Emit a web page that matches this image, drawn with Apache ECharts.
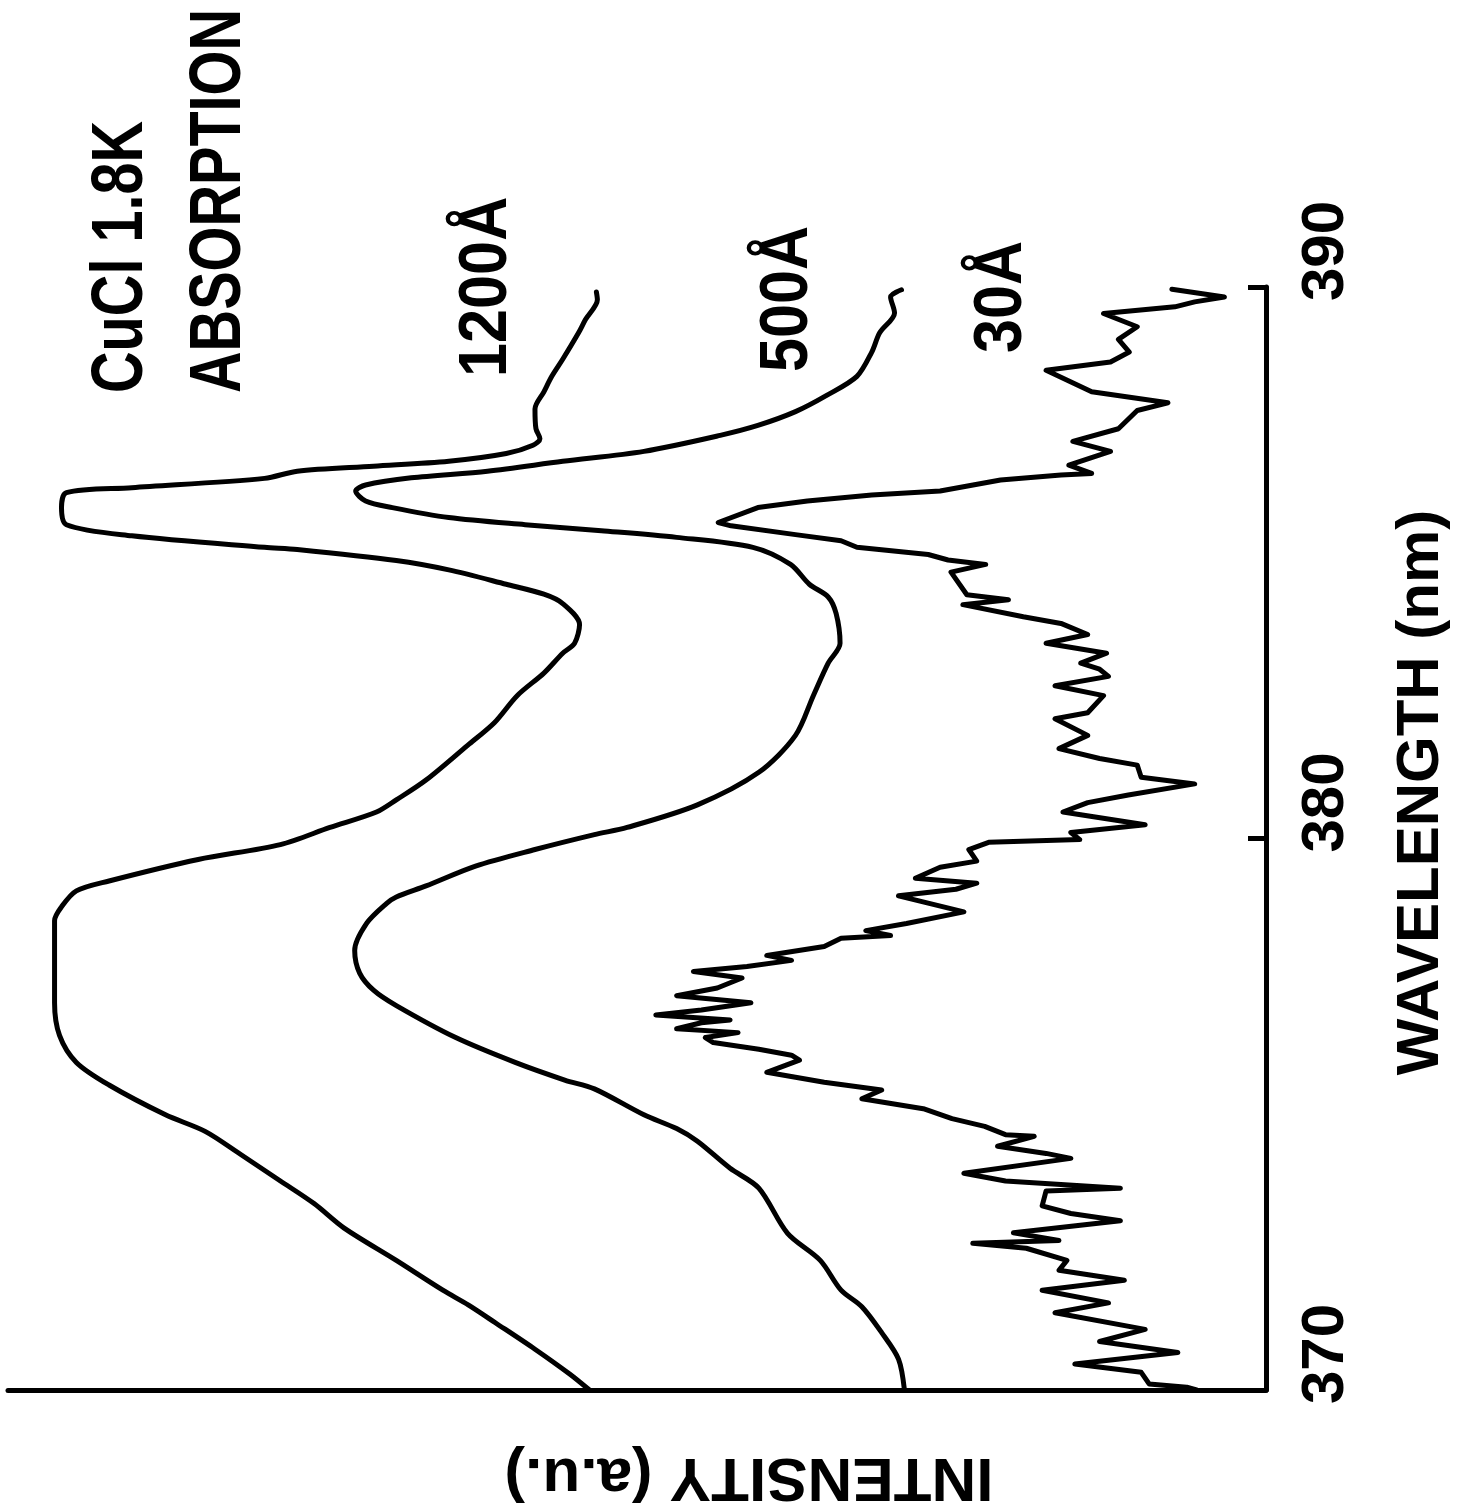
<!DOCTYPE html>
<html><head><meta charset="utf-8">
<script src="https://cdn.jsdelivr.net/npm/echarts@6/dist/echarts.min.js"></script>
<style>html,body{margin:0;padding:0;background:#fff}#c{width:1459px;height:1512px}</style>
</head><body><div id="c"></div>
<script>
const FONT = "'Liberation Sans', Arial, Helvetica, sans-serif";
const wavelengthTicks = [370, 380, 390];
const intensityRange = [0, 127];
const seriesNames = ['1200Å', '500Å', '30Å'];
const titleLines = ['CuCl 1.8K', 'ABSORPTION'];
const axisNames = { wavelength: 'WAVELENGTH (nm)', intensity: 'INTENSITY (a.u.)' };

// [wavelength nm, intensity a.u.]
const film1200 = [
[370.00,68.3],[370.29,70.3],[370.74,73.8],[371.22,77.8],[371.54,80.5],[371.81,83.1],[372.35,87.8],[372.94,93.1],
[373.38,96.1],[373.79,99.5],[374.27,103.5],[374.69,107.1],[374.99,111.1],[375.53,116.8],[375.94,120.1],[376.43,121.8],
[377.02,122.3],[377.92,122.3],[378.51,122.3],[378.76,121.6],[379.05,120.1],[379.23,116.8],[379.62,107.8],[379.89,99.5],
[380.20,94.5],[380.48,89.8],[380.70,87.8],[381.06,84.8],[381.69,80.6],[382.10,77.9],[382.59,75.6],[383.00,72.9],
[383.36,71.0],[383.54,69.8],[383.88,69.3],[384.26,71.0],[384.43,72.9],[384.61,76.7],[384.87,82.5],[385.04,87.8],
[385.24,97.8],[385.28,101.1],[385.49,114.5],[385.69,121.1],[386.00,121.6],[386.27,121.1],[386.36,114.5],[386.53,101.1],
[386.66,97.8],[386.75,90.1],[386.84,82.5],[386.98,76.7],[387.13,74.0],[387.25,73.3],[387.43,73.7],[387.79,73.8],
[388.10,72.9],[388.38,72.1],[388.69,71.0],[389.17,69.4],[389.41,68.7],[389.77,67.5],[389.91,67.6]
];
const film500 = [
[370.00,36.5],[370.56,37.1],[371.04,38.8],[371.51,40.8],[371.81,42.9],[372.35,45.0],[372.84,48.3],[373.66,51.2],
[374.02,54.1],[374.51,57.4],[374.74,59.5],[374.99,62.8],[375.46,67.8],[375.62,70.8],[375.94,75.8],[376.39,81.8],
[376.97,87.8],[377.25,90.1],[377.56,91.5],[377.97,92.0],[378.46,90.8],[378.82,88.8],[378.94,87.8],[379.14,84.8],
[379.50,79.8],[379.80,73.8],[380.07,67.8],[380.20,64.5],[380.61,57.4],[381.20,51.2],[381.87,47.5],[382.59,45.7],
[383.18,44.2],[383.54,43.0],[384.08,43.4],[384.38,44.2],[384.61,46.1],[384.97,48.0],[385.28,51.8],[385.46,59.5],
[385.58,67.1],[385.69,74.8],[385.82,82.5],[386.00,88.2],[386.12,90.9],[386.30,91.9],[386.41,90.9],[386.54,86.3],
[386.66,78.6],[386.84,71.0],[387.02,62.8],[387.31,55.1],[387.49,51.3],[387.74,47.5],[388.03,44.4],[388.38,41.3],
[388.82,39.8],[389.17,39.0],[389.53,37.5],[389.82,37.9],[389.95,36.8]
];
const film30 = [
[370.00,7.0],[370.05,8.0],[370.11,11.8],[370.32,12.6],[370.47,19.3],[370.68,8.9],[370.88,16.8],[371.10,12.2],
[371.40,21.3],[371.58,15.9],[371.81,22.6],[371.99,14.3],[372.17,20.9],[372.35,20.1],[372.57,24.2],[372.66,29.6],
[372.71,20.9],[372.85,25.5],[373.07,14.7],[373.20,19.7],[373.34,22.6],[373.61,22.2],[373.66,14.7],[373.79,26.3],
[373.93,30.5],[374.20,19.7],[374.29,22.2],[374.42,27.1],[374.60,23.4],[374.63,26.3],[374.78,28.4],[374.92,31.7],
[375.10,34.6],[375.28,40.8],[375.44,38.8],[375.58,44.6],[375.76,50.4],[375.98,47.1],[376.07,47.9],[376.18,51.2],
[376.30,55.8],[376.39,56.6],[376.48,53.3],[376.55,59.5],[376.66,57.0],[376.71,54.1],[376.80,61.6],[376.89,57.0],
[377.02,52.0],[377.15,59.5],[377.29,55.4],[377.47,52.9],[377.59,57.8],[377.68,52.4],[377.79,47.9],[377.88,50.4],
[378.04,44.6],[378.19,42.9],[378.24,37.9],[378.33,40.4],[378.46,36.3],[378.67,30.5],[378.96,37.1],[379.08,31.3],
[379.19,29.2],[379.28,35.4],[379.48,32.9],[379.59,29.2],[379.80,30.0],[379.93,28.0],[379.98,18.8],[380.11,19.7],
[380.25,12.2],[380.48,20.5],[380.65,18.0],[380.79,13.9],[380.99,7.2],[381.11,12.6],[381.33,13.0],[381.45,16.8],
[381.63,20.9],[381.87,18.0],[382.17,21.3],[382.28,18.0],[382.59,16.4],[382.77,21.3],[382.94,15.9],[383.07,16.8],
[383.18,18.7],[383.36,16.1],[383.54,22.2],[383.70,18.0],[383.90,20.7],[384.02,24.5],[384.24,30.6],[384.33,26.0],
[384.42,30.2],[384.83,31.8],[384.97,28.3],[385.05,32.1],[385.15,34.1],[385.28,41.3],[385.40,42.9],[385.51,47.5],
[385.67,54.0],[385.73,55.3],[386.00,51.3],[386.12,46.3],[386.23,39.8],[386.30,32.9],[386.50,26.8],[386.59,20.7],
[386.62,17.6],[386.77,19.9],[387.02,15.7],[387.20,19.5],[387.43,14.9],[387.76,13.0],[387.90,9.9],[388.10,17.6],
[388.49,22.2],[388.64,15.7],[388.82,13.8],[389.05,14.9],[389.28,13.0],[389.52,16.4],[389.64,9.2],[389.73,7.2],
[389.82,4.2],[389.96,9.5]
];

const chart = echarts.init(document.getElementById('c'), null, { renderer: 'canvas' });

function rotText(text, x, y, size, sx) {
  return {
    type: 'text', x: x, y: y, rotation: Math.PI / 2, scaleX: sx, scaleY: 1,
    style: {
      text: text, fill: '#000', fontSize: size, fontWeight: 'bold', fontFamily: FONT,
      align: 'left', verticalAlign: 'middle', textAlign: 'left', textVerticalAlign: 'middle'
    }
  };
}

const mk = (name, arr, w, sm) => ({
  name: name, type: 'line', showSymbol: false, symbol: 'none',
  smooth: sm,
  xAxisIndex: 0, yAxisIndex: 0,
  lineStyle: { color: '#000', width: w, cap: 'round', join: 'round' },
  data: arr.map(p => [p[1], p[0]]),
  animation: false
});

chart.setOption({
  backgroundColor: '#fff',
  animation: false,
  grid: { left: 8, right: 181, top: 287, bottom: 111, containLabel: false },
  xAxis: {
    type: 'value', inverse: true, min: intensityRange[0], max: intensityRange[1],
    position: 'bottom',
    axisLine: { show: true, onZero: false, lineStyle: { color: '#000', width: 5, cap: 'round' } },
    axisTick: { show: false }, axisLabel: { show: false }, splitLine: { show: false },
    name: axisNames.intensity, nameLocation: 'middle', nameRotate: 180, nameGap: 55,
    nameTextStyle: { color: '#000', fontSize: 62, fontWeight: 'bold', fontFamily: FONT, padding: [0, 224, 0, 0] }
  },
  yAxis: {
    type: 'value', min: wavelengthTicks[0], max: wavelengthTicks[wavelengthTicks.length - 1], interval: 10,
    position: 'right',
    axisLine: { show: true, onZero: false, lineStyle: { color: '#000', width: 5, cap: 'round' } },
    axisTick: { show: true, inside: true, length: 18, lineStyle: { color: '#000', width: 5 } },
    axisLabel: {
      show: true, rotate: 90, margin: 60, color: '#000', fontSize: 60, fontWeight: 'bold', fontFamily: FONT,
      align: 'center', verticalAlign: 'middle', padding: [0, 0, 0, 72], showMinLabel: true, showMaxLabel: true
    },
    splitLine: { show: false },
    name: axisNames.wavelength, nameLocation: 'middle', nameRotate: 90, nameGap: 125,
    nameTextStyle: { color: '#000', fontSize: 60, fontWeight: 'bold', fontFamily: FONT, padding: [0, 0, 0, 92] }
  },
  series: [
    mk(seriesNames[0], film1200, 5, 0.3),
    mk(seriesNames[1], film500, 5, 0.3),
    mk(seriesNames[2], film30, 5, 0)
  ],
  graphic: [
    rotText(titleLines[0], 122, 393, 72, 0.8),
    rotText(titleLines[1], 220, 393, 72, 0.8),
    rotText(seriesNames[0], 487, 377, 68, 0.9),
    rotText(seriesNames[1], 788, 372, 68, 0.9),
    rotText(seriesNames[2], 1002, 353, 68, 0.9)
  ]
});
</script></body></html>
